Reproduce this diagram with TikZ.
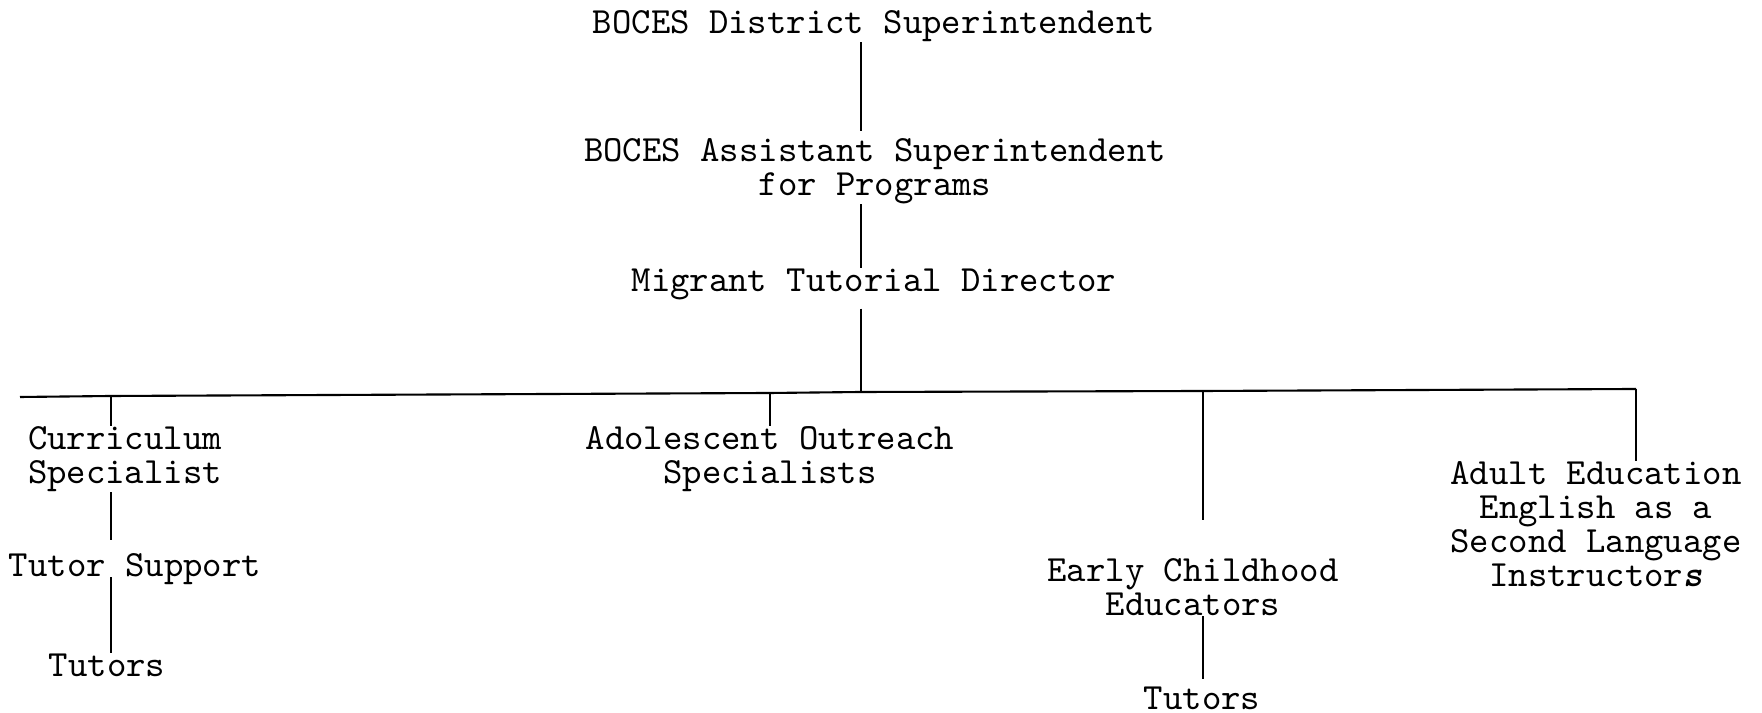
\documentclass[tikz,border=0pt]{standalone}
\usepackage{fontspec}
\usetikzlibrary{positioning}

\begin{document}
\begin{tikzpicture}[
  x=0.01cm, y=-0.01cm,
  post/.style={font=\ttfamily\fontsize{10.5}{9.6}\selectfont,align=center,inner sep=0pt},
  tie/.style={line width=0.6pt}
]
\useasboundingbox (0,0) rectangle (1762,713);
\node[post] (sup) at (874,26) {BOCES District Superintendent};
\node[post] (asst) at (875,171) {BOCES Assistant Superintendent\\for Programs};
\node[post] (dir) at (874,284) {Migrant Tutorial Director};
\node[post] (cur) at (125,459) {Curriculum\\Specialist};
\node[post] (help) at (135,569) {Tutor Support};
\node[post] (tutA) at (107,665) {Tutors};
\node[post] (ado) at (770,459) {Adolescent Outreach\\Specialists};
\node[post] (early) at (1193,587) {Early Childhood\\Educators};
\node[post] (tutB) at (1202,698) {Tutors};
\node[post] (adult) at (1596,524) {Adult Education\\English as a\\Second Language\\Instructor\textbf{\textit{s}}};
% the long bar
\coordinate (barL) at (20,397);
\coordinate (j1) at (111,396);
\coordinate (j2) at (770,393);
\coordinate (spine) at (861,392);
\coordinate (j3) at (1203,391);
\coordinate (j4) at (1636,389);
\draw[tie] (barL) -- (j1) -- (j2) -- (spine) -- (j3) -- (j4);
% top chain
\draw[tie,shorten >=1.8pt] (sup.south -| spine) -- (asst.north -| spine);
\draw[tie] (asst.south -| spine) -- (dir.north -| spine);
\draw[tie,shorten <=2.4pt] (dir.south -| spine) -- (spine);
% drops
\draw[tie] (j1) -- (cur.north -| j1);
\draw[tie] (j2) -- (ado.north -| j2);
\draw[tie,shorten >=10.8pt] (j3) -- (early.north -| j3);
\draw[tie] (j4) -- (adult.north -| j4);
% lower chains
\draw[tie,shorten >=3.7pt] (cur.south -| j1) -- (help.north -| j1);
\draw[tie,shorten <=-2.3pt] (help.south -| j1) -- (tutA.north -| j1);
\draw[tie,shorten >=2pt] (early.south -| j3) -- (tutB.north -| j3);
\end{tikzpicture}
\end{document}
